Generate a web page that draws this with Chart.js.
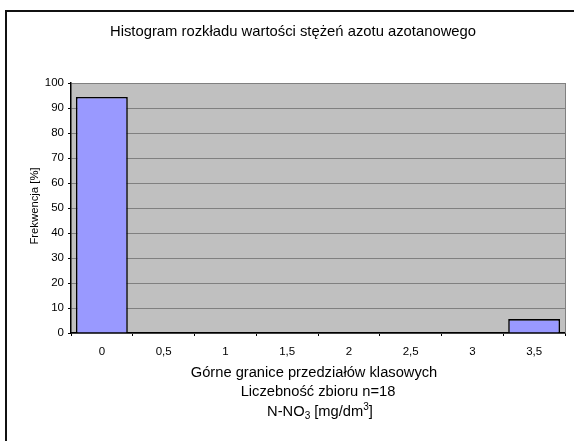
<!DOCTYPE html>
<html>
<head>
<meta charset="utf-8">
<script src="https://cdn.jsdelivr.net/npm/chart.js@4/dist/chart.umd.min.js"></script>
<style>
  html, body { margin: 0; padding: 0; background: #ffffff; }
  canvas { display: block; }
</style>
</head>
<body>
<canvas id="hist" width="574" height="441"></canvas>
<script>
// Upper class limits of N-NO3 concentration [mg/dm3]
const classLimits = ['0', '0,5', '1', '1,5', '2', '2,5', '3', '3,5'];
// Relative frequency of each class [%], n = 18
const frequencyPct = [94.44, 0, 0, 0, 0, 0, 0, 5.56];
// Y axis ticks [%]
const yTicks = [0, 10, 20, 30, 40, 50, 60, 70, 80, 90, 100];

const chartTitle = 'Histogram rozkładu wartości stężeń azotu azotanowego';
const yTitle = 'Frekwencja [%]';
const xTitleLines = ['Górne granice przedziałów klasowych', 'Liczebność zbioru n=18'];

const FONT = "'Liberation Sans', Arial, sans-serif";
const BIG = 14.7;
const SMALL = 10;
const TICK = 11.5;

// Grey plot background, frame and all annotation text
const decorations = {
  id: 'decorations',
  beforeDraw(chart) {
    const { ctx, chartArea: a } = chart;
    ctx.save();
    ctx.fillStyle = '#ffffff';
    ctx.fillRect(0, 0, chart.width, chart.height);
    // outer frame (top and left edges)
    ctx.fillStyle = '#111111';
    ctx.fillRect(5, 10, chart.width, 2);
    ctx.fillRect(5, 10, 2, chart.height);
    // plot area
    ctx.fillStyle = '#c0c0c0';
    ctx.fillRect(a.left, a.top, a.right - a.left, a.bottom - a.top);
    ctx.restore();
  },
  afterDraw(chart) {
    const { ctx, chartArea: a } = chart;
    ctx.save();
    // right edge of plot area
    ctx.strokeStyle = '#808080';
    ctx.lineWidth = 1;
    ctx.beginPath();
    ctx.moveTo(a.right + 0.5, a.top);
    ctx.lineTo(a.right + 0.5, a.bottom);
    ctx.stroke();

    ctx.fillStyle = '#000000';
    ctx.textAlign = 'center';
    ctx.textBaseline = 'middle';

    // chart title
    ctx.font = '14.8px ' + FONT;
    ctx.fillText(chartTitle, 293, 32);

    // x axis title
    ctx.font = BIG + 'px ' + FONT;
    ctx.fillText(xTitleLines[0], 314, 373);
    ctx.fillText(xTitleLines[1], 318, 392);

    // third line: N-NO3 [mg/dm3] with sub/superscript
    const p1 = 'N-NO', sub = '3', p2 = ' [mg/dm', sup = '3', p3 = ']';
    const big = BIG + 'px ' + FONT, small = SMALL + 'px ' + FONT;
    ctx.font = big;
    const w1 = ctx.measureText(p1).width, w2 = ctx.measureText(p2).width, w3 = ctx.measureText(p3).width;
    ctx.font = small;
    const ws = ctx.measureText(sub).width, wsp = ctx.measureText(sup).width;
    let x = 320 - (w1 + ws + w2 + wsp + w3) / 2;
    const y = 412;
    ctx.textAlign = 'left';
    ctx.font = big;
    ctx.fillText(p1, x, y); x += w1;
    ctx.font = small;
    ctx.fillText(sub, x, y + 4); x += ws;
    ctx.font = big;
    ctx.fillText(p2, x, y); x += w2;
    ctx.font = small;
    ctx.fillText(sup, x, y - 5); x += wsp;
    ctx.font = big;
    ctx.fillText(p3, x, y);

    // y axis title
    ctx.translate(35, 206);
    ctx.rotate(-Math.PI / 2);
    ctx.textAlign = 'center';
    ctx.font = '11.3px ' + FONT;
    ctx.fillText(yTitle, 0, 0);
    ctx.restore();
  }
};

new Chart(document.getElementById('hist'), {
  type: 'bar',
  data: {
    labels: classLimits,
    datasets: [{
      data: frequencyPct,
      backgroundColor: '#9999ff',
      borderColor: '#000000',
      borderWidth: 1.6,
      categoryPercentage: 1.0,
      barPercentage: 0.84
    }]
  },
  options: {
    responsive: false,
    devicePixelRatio: 1,
    animation: false,
    layout: { padding: { left: 6, top: 83, right: 9, bottom: 0 } },
    plugins: {
      legend: { display: false },
      title: { display: false },
      tooltip: { enabled: false }
    },
    scales: {
      x: {
        offset: true,
        grid: {
          offset: true,
          drawOnChartArea: false,
          drawTicks: true,
          tickLength: 3,
          tickColor: '#000000'
        },
        border: { display: true, color: '#000000', width: 1.5 },
        ticks: {
          color: '#000000',
          font: { family: FONT, size: TICK },
          padding: 9,
          maxRotation: 0,
          autoSkip: false
        },
        afterFit(scale) { scale.height = 108; }
      },
      y: {
        min: 0,
        max: 100,
        afterBuildTicks(scale) { scale.ticks = yTicks.map(v => ({ value: v })); },
        grid: {
          color: '#808080',
          lineWidth: 1,
          drawTicks: true,
          tickLength: 3,
          tickColor: '#000000'
        },
        border: { display: true, color: '#000000', width: 1.5 },
        ticks: {
          color: '#000000',
          font: { family: FONT, size: TICK },
          padding: 4
        },
        afterFit(scale) { scale.width = 65; }
      }
    }
  },
  plugins: [decorations]
});
</script>
</body>
</html>
